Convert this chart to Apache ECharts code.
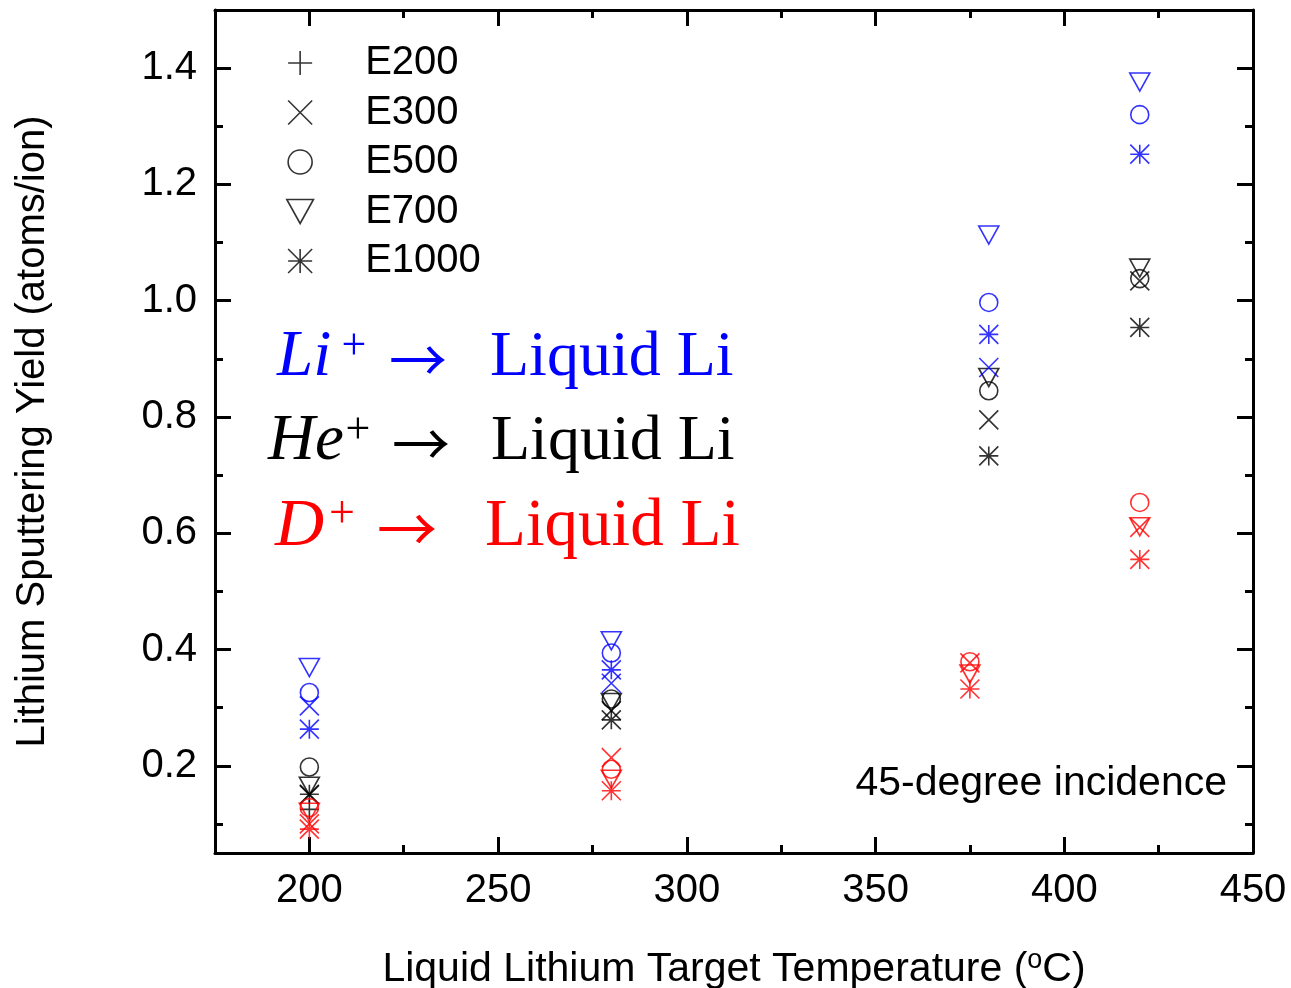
<!DOCTYPE html>
<html>
<head>
<meta charset="utf-8">
<script src="https://cdn.jsdelivr.net/npm/echarts@6/dist/echarts.min.js"></script>
<style>
  html, body { margin: 0; padding: 0; background: #fff; }
  #chart { width: 1291px; height: 988px; }
</style>
</head>
<body>
<div id="chart"></div>
<script>
// Target temperatures (°C) for each projectile
const tempsLiHe = [200, 280, 380, 420];
const tempsD = [200, 280, 375, 420];

// Incident energies (legend entries)
const energies = ['E200', 'E300', 'E500', 'E700', 'E1000'];

// Li+ -> liquid Li sputtering yields (atoms/ion)
const liE300 = [0.303, 0.342, 0.885, null];
const liE500 = [0.326, 0.394, 0.997, 1.320];
const liE700 = [0.369, 0.415, 1.113, 1.376];
const liE1000 = [0.263, 0.365, 0.942, 1.252];

// He+ -> liquid Li sputtering yields (atoms/ion)
const heE200 = [0.125, null, null, null];
const heE300 = [0.150, 0.295, 0.795, 1.034];
const heE500 = [0.198, 0.315, 0.845, 1.038];
const heE700 = [0.165, 0.309, 0.868, 1.056];
const heE1000 = [0.151, 0.279, 0.733, 0.954];

// D+ -> liquid Li sputtering yields (atoms/ion)
const dE300 = [0.100, 0.214, 0.377, 0.610];
const dE500 = [0.128, 0.194, 0.379, 0.653];
const dE700 = [0.120, 0.177, 0.358, 0.611];
const dE1000 = [0.091, 0.157, 0.332, 0.555];

// Axis ticks
const xMajorTicks = [200, 250, 300, 350, 400, 450];
const xMinorTicks = [225, 275, 325, 375, 425];
const yMajorTicks = [0.2, 0.4, 0.6, 0.8, 1.0, 1.2, 1.4];
const yMinorTicks = [0.1, 0.3, 0.5, 0.7, 0.9, 1.1, 1.3];

const SANS = 'Liberation Sans, Arial, sans-serif';
const SERIF = 'Liberation Serif, Times New Roman, serif';
const ARROW = 'Noto Sans CJK SC, DejaVu Sans, sans-serif';
const BLUE = '#0000ff', BLACK = '#000000', RED = '#ff0000';

// Open marker shapes, one per energy
const markers = {
  E200: { symbol: 'path://M10,0L10,20M0,10L20,10', size: [19, 19] },
  E300: { symbol: 'path://M0,0L20,20M20,0L0,20', size: [19, 19] },
  E500: { symbol: 'circle', size: 18 },
  E700: { symbol: 'path://M0,0L20,0L10,18Z', size: [20, 18] },
  E1000: { symbol: 'path://M0,0L20,20M20,0L0,20M10,0L10,20M0,10L20,10', size: [19, 19] }
};

function pairs(temps, vals) {
  const out = [];
  temps.forEach((t, i) => { if (vals[i] != null) out.push([t, vals[i]]); });
  return out;
}

function scatter(name, energy, color, temps, vals) {
  const m = markers[energy];
  return {
    type: 'scatter',
    name: name,
    data: pairs(temps, vals),
    symbol: m.symbol,
    symbolSize: m.size,
    itemStyle: { color: 'transparent', borderColor: color, borderWidth: 1.6 },
    emphasis: { disabled: true },
    silent: true
  };
}

const series = [
  // He+ series carry the energy names so the legend shows black markers
  scatter('E200', 'E200', BLACK, tempsLiHe, heE200),
  scatter('E300', 'E300', BLACK, tempsLiHe, heE300),
  scatter('E500', 'E500', BLACK, tempsLiHe, heE500),
  scatter('E700', 'E700', BLACK, tempsLiHe, heE700),
  scatter('E1000', 'E1000', BLACK, tempsLiHe, heE1000),
  scatter('Li E300', 'E300', BLUE, tempsLiHe, liE300),
  scatter('Li E500', 'E500', BLUE, tempsLiHe, liE500),
  scatter('Li E700', 'E700', BLUE, tempsLiHe, liE700),
  scatter('Li E1000', 'E1000', BLUE, tempsLiHe, liE1000),
  scatter('D E300', 'E300', RED, tempsD, dE300),
  scatter('D E500', 'E500', RED, tempsD, dE500),
  scatter('D E700', 'E700', RED, tempsD, dE700),
  scatter('D E1000', 'E1000', RED, tempsD, dE1000)
];

const axisLineStyle = { show: true, onZero: false, lineStyle: { color: BLACK, width: 3 } };

function xAxisOf(position, ticks, len, withLine, withLabels) {
  return {
    type: 'value', min: 175, max: 450, position: position,
    axisLine: withLine ? axisLineStyle : { show: false },
    axisTick: { show: true, inside: true, length: len, customValues: ticks,
                lineStyle: { color: BLACK, width: 3 } },
    axisLabel: withLabels
      ? { show: true, customValues: ticks, fontSize: 40, fontFamily: SANS, color: BLACK, margin: 18 }
      : { show: false },
    splitLine: { show: false }
  };
}

function yAxisOf(position, ticks, len, withLine, withLabels) {
  return {
    type: 'value', min: 0.05, max: 1.5, position: position,
    axisLine: withLine ? axisLineStyle : { show: false },
    axisTick: { show: true, inside: true, length: len, customValues: ticks,
                lineStyle: { color: BLACK, width: 3 } },
    axisLabel: withLabels
      ? { show: true, customValues: ticks, fontSize: 40, fontFamily: SANS, color: BLACK, margin: 18,
          formatter: v => v.toFixed(1) }
      : { show: false },
    splitLine: { show: false }
  };
}

const xMain = xAxisOf('bottom', xMajorTicks, 16, true, true);
xMain.name = '{t|Liquid Lithium Target Temperature (}{s|o}{t|C)}';
xMain.nameLocation = 'middle';
xMain.nameGap = 94;
xMain.nameTextStyle = {
  rich: {
    t: { fontSize: 41, fontFamily: SANS, color: BLACK, lineHeight: 46 },
    s: { fontSize: 27, fontFamily: SANS, color: BLACK, lineHeight: 46, verticalAlign: 'top' }
  }
};

const yMain = yAxisOf('left', yMajorTicks, 16, true, true);
yMain.name = 'Lithium Sputtering Yield (atoms/ion)';
yMain.nameLocation = 'middle';
yMain.nameGap = 162;
yMain.nameTextStyle = { fontSize: 40, fontFamily: SANS, color: BLACK };

function label(text, x, y, size, color, opts) {
  return {
    type: 'text', x: x, y: y, silent: true,
    style: Object.assign({
      text: text, fontSize: size, fontFamily: SERIF, fill: color,
      align: 'left', verticalAlign: 'middle'
    }, opts || {})
  };
}

const chart = echarts.init(document.getElementById('chart'), null, { renderer: 'canvas' });
chart.setOption({
  animation: false,
  backgroundColor: '#ffffff',
  grid: { left: 215, right: 38, top: 10, bottom: 135, outerBoundsMode: 'none', containLabel: false },
  xAxis: [
    xMain,
    xAxisOf('bottom', xMinorTicks, 8, false, false),
    xAxisOf('top', xMajorTicks, 16, true, false),
    xAxisOf('top', xMinorTicks, 8, false, false)
  ],
  yAxis: [
    yMain,
    yAxisOf('left', yMinorTicks, 8, false, false),
    yAxisOf('right', yMajorTicks, 16, true, false),
    yAxisOf('right', yMinorTicks, 8, false, false)
  ],
  legend: {
    orient: 'vertical', left: 281, top: 38,
    itemWidth: 120, itemHeight: 24, itemGap: 9.5,
    data: energies,
    selectedMode: false,
    textStyle: { fontSize: 40, fontFamily: SANS, color: BLACK, lineHeight: 24 },
    itemStyle: { color: 'transparent', borderColor: BLACK, borderWidth: 1.6 }
  },
  series: series,
  graphic: [
    // Li+ -> Liquid Li
    label('Li', 277, 358, 65, BLUE, { fontStyle: 'italic' }),
    label('+', 354, 347, 44, BLUE, { align: 'center' }),
    label('\u2192', 418, 360, 58, BLUE, { align: 'center', fontFamily: ARROW }),
    label('Liquid Li', 490, 358, 64, BLUE),
    // He+ -> Liquid Li
    label('He', 268, 442, 65, BLACK, { fontStyle: 'italic' }),
    label('+', 358, 431, 44, BLACK, { align: 'center' }),
    label('\u2192', 421, 444, 58, BLACK, { align: 'center', fontFamily: ARROW }),
    label('Liquid Li', 491, 442, 64, BLACK),
    // D+ -> Liquid Li
    label('D', 275, 527, 68, RED, { fontStyle: 'italic' }),
    label('+', 342, 515, 46, RED, { align: 'center' }),
    label('\u2192', 407, 529, 60, RED, { align: 'center', fontFamily: ARROW }),
    label('Liquid Li', 485, 527, 67, RED),
    // incidence angle note
    label('45-degree incidence', 1227, 784, 41, BLACK, { align: 'right', fontFamily: SANS })
  ]
});
</script>
</body>
</html>
